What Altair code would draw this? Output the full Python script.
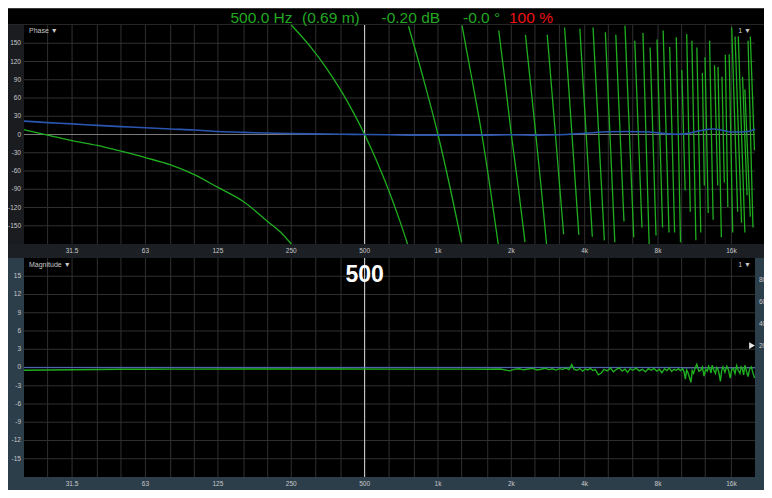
import altair as alt
import pandas as pd

# ---------------- data ----------------
grid_freqs = [25, 31.5, 40, 50, 63, 80, 100, 125, 160, 200, 250, 315, 400, 500, 630, 800,
              1000, 1250, 1600, 2000, 2500, 3150, 4000, 5000, 6300, 8000, 10000, 12500, 16000]
xlabel_freqs = [31.5, 63, 125, 250, 500, 1000, 2000, 4000, 8000, 16000]
xlabel_text = ["31.5", "63", "125", "250", "500", "1k", "2k", "4k", "8k", "16k"]
phase_ticks = [150, 120, 90, 60, 30, 0, -30, -60, -90, -120, -150]
mag_ticks = [15, 12, 9, 6, 3, 0, -3, -6, -9, -12, -15]
coh_ticks = [80, 60, 40, 20]
coh_marker = [20]
cursor_freq = [500]

# blue phase trace
blue_phase_f = [20, 25, 31.5, 40, 50, 63, 80, 100, 125, 160, 200, 250, 315, 400, 500, 630, 800,
                1000, 1250, 1600, 2000, 2500, 3150, 4000, 5000, 5900, 7400, 9400, 10300, 12300,
                13500, 16300, 18700, 20000]
blue_phase_deg = [22, 19.5, 17.5, 15, 13, 11, 9, 7.5, 5, 3.5, 2.5, 1.5, 1, 0.5, 0, -0.5, -1,
                  -1, -1, -1, -0.5, -1, -0.5, 2, 4.5, 5, 4, 0.5, 1, 7.5, 9, 4, 5, 9]

# green (wrapped) phase trace: curved segments
seg1_f = [20, 25, 31.5, 40, 50, 63, 80, 100, 125, 160, 200, 225, 250]
seg1_deg = [8, -1, -10, -18, -27.5, -38, -50, -66, -87, -111, -143, -160, -180]
seg2_f = [250, 300, 350, 400, 450, 500, 550, 600, 650, 700, 750]
seg2_deg = [180, 144, 108, 72, 36, 0, -36, -72, -108, -144, -180]
seg3_f = [757, 875, 1000, 1125, 1250]
seg3_deg = [178, 89, 0, -90, -177]
seg4_f = [1255, 1380, 1514, 1640, 1767]
seg4_deg = [179, 90, 0, -90, -180]
seg5_f = [1776, 1888, 2000, 2138, 2276]
seg5_deg = [171, 85, 0, -88, -177]
seg6_f = [2285, 2400, 2520, 2655, 2790]
seg6_deg = [164, 82, 0, -90, -180]

# green phase: sampled strokes at high frequency (top -> bottom)
stroke_top_f = [2808, 3308, 3821, 4328, 4863, 5367, 5852, 6420, 6938, 7424, 7921, 8395, 8932,
                9505, 10014, 10489, 11015, 11545, 12163, 12471, 13020, 13638, 14100, 14636,
                15104, 15667, 16052, 16565, 17080, 17777, 18174, 18730, 19133]
stroke_top_deg = [164, 176, 174, 176, 168, 164, 179, 154, 167, 143, 156, 171, 144,
                  160, 106, 165, 154, 143, 101, 127, 154, 114, 111, 95,
                  131, 132, 176, 161, 161, 95, 74, 154, 161]
stroke_bot_f = [3278, 3786, 4300, 4818, 5318, 5798, 6360, 6874, 7356, 7848, 8352, 8874, 9356,
                9893, 10335, 10850, 11440, 11983, 12390, 12855, 13465, 14062, 14553, 14965,
                15468, 16203, 16972, 17611, 18174, 18556, 19133, 19620, 19900]
stroke_bot_deg = [-164, -165, -168, -174, -177, -143, -169, -153, -180, -166, -153, -161, -161,
                  -177, -92, -127, -174, -161, -84, -129, -140, -84, -169, -79,
                  -119, -161, -127, -145, -161, -100, -135, -153, -26]

# green magnitude trace
mag_f = [20, 25, 31.5, 40, 50, 63, 80, 100, 160, 250, 400, 630, 1000, 1300, 1600, 1800, 1970,
         2050, 2150, 2250, 2350, 2450, 2550, 2650, 2750, 2850, 2950, 3050, 3150, 3250, 3350,
         3450, 3540, 3620, 3720, 3820, 3920, 4020, 4120, 4220, 4320, 4420, 4550, 4680, 4800,
         4950, 5100, 5250, 5400, 5550, 5700, 5850, 6000, 6150, 6300, 6500, 6700, 6900, 7100,
         7300, 7500, 7700, 7900, 8100, 8300, 8500, 8700, 8900, 9100, 9300, 9500, 9700, 9900,
         10100, 10230, 10360, 10480, 10600, 10760, 10920, 11050, 11190, 11360, 11540, 11760,
         11990, 12170, 12356, 12550, 12740, 12900, 13050, 13200, 13340, 13550, 13760, 13930,
         14100, 14260, 14420, 14600, 14780, 15050, 15330, 15570, 15816, 16060, 16306, 16560,
         16820, 17080, 17350, 17550, 17750, 17960, 18180, 18450, 18730, 19020, 19320, 19620,
         19930]
mag_db = [-0.45, -0.42, -0.38, -0.33, -0.3, -0.28, -0.27, -0.26, -0.25, -0.25, -0.25, -0.26,
          -0.27, -0.27, -0.3, -0.25, -0.55, -0.3, -0.2, -0.38, -0.25, -0.15, -0.4, -0.28, -0.12,
          -0.35, -0.22, -0.42, -0.2, -0.3, -0.1, -0.35, 0.48, -0.3, -0.45, -0.18, -0.6, -0.25,
          -0.4, -0.15, -0.5, -0.3, -1.2, -0.9, -0.3, -0.55, -0.1, -0.7, -0.3, -0.05, -0.6, -0.25,
          -0.8, -0.2, -0.45, -0.1, -0.55, -0.3, -0.7, -0.2, -0.45, -0.15, -0.6, -0.3, -0.85,
          -0.2, -0.5, -0.1, -0.65, -0.3, -0.45, -0.2, -0.5,
          -0.2, -0.7, -1.9, -0.4, -0.8, -1.6, -2.45, -0.5, -0.96, -0.1,
          0.53, -0.6, -0.43, 0.1, -1.4, -0.3, -0.6, 0.2, -0.2, -0.9, 0.37, -0.4, -0.96, 0.0,
          -0.3, -1.1, -2.3, -0.5, 0.1, -0.8, 0.2, -0.4, -1.75, -0.3, -0.16, -1.0,
          0.3, -0.5, -0.96, 0.1, -0.2, -1.2, 0.37, -0.6, -1.5, -0.2, 0.1, -0.9,
          -1.75]

# blue magnitude trace
mag2_f = [20, 9800, 10200, 20000]
mag2_db = [0.0, 0.0, -0.1, -0.1]

# ---------------- build tables ----------------
rows = []
sid = 0
for fs, ds in [(seg1_f, seg1_deg), (seg2_f, seg2_deg), (seg3_f, seg3_deg),
               (seg4_f, seg4_deg), (seg5_f, seg5_deg), (seg6_f, seg6_deg)]:
    for f, d in zip(fs, ds):
        rows.append({"seg": sid, "f": f, "deg": d})
    sid += 1
for ft, dt, fb, db in zip(stroke_top_f, stroke_top_deg, stroke_bot_f, stroke_bot_deg):
    rows.append({"seg": sid, "f": ft, "deg": dt})
    rows.append({"seg": sid, "f": fb, "deg": db})
    sid += 1
green_phase = pd.DataFrame(rows)
blue_phase = pd.DataFrame({"f": blue_phase_f, "deg": blue_phase_deg})
mag_green = pd.DataFrame({"f": mag_f, "db": mag_db})
mag_blue = pd.DataFrame({"f": mag2_f, "db": mag2_db})
grid_df = pd.DataFrame({"f": grid_freqs})
xlab_df = pd.DataFrame({"f": xlabel_freqs, "t": xlabel_text})
ph_df = pd.DataFrame({"v": phase_ticks, "t": [str(v) for v in phase_ticks]})
mg_df = pd.DataFrame({"v": mag_ticks, "t": [str(v) for v in mag_ticks]})
coh_df = pd.DataFrame({"c": coh_ticks, "t": [str(v) for v in coh_ticks]})
cohm_df = pd.DataFrame({"c": coh_marker})
cur_df = pd.DataFrame({"f": cursor_freq, "t": [str(v) for v in cursor_freq]})
one = pd.DataFrame({"k": [0]})

# ---------------- layout ----------------
W, H = 731, 452
PH_TOP, PH_BOT = 0, 219
MG_TOP, MG_BOT = 233, 452
PH_DOMAIN = [-563.01, 180]
MG_DOMAIN = [-18, 56.30]
FONT = "Liberation Sans, Arial, sans-serif"
GREEN = "#1fae1f"
BLUE = "#2a56b0"
GRID = "#303030"
SLATE = "#2d3e4b"
DARK = "#1c1f24"
LBL = "#c8c8c8"


def X(field="f"):
    return alt.X(f"{field}:Q", scale=alt.Scale(type="log", domain=[20, 20000], nice=False), axis=None)


def YP(field):
    return alt.Y(f"{field}:Q", scale=alt.Scale(domain=PH_DOMAIN, nice=False, zero=False), axis=None)


def YM(field):
    return alt.Y(f"{field}:Q", scale=alt.Scale(domain=MG_DOMAIN, nice=False, zero=False), axis=None)


def box(x1, x2, y1, y2, color):
    return alt.Chart(one).mark_rect(color=color).encode(
        x=alt.value(x1), x2=alt.value(x2), y=alt.value(y1), y2=alt.value(y2))


def label(text, x, y, size=7, color=LBL, align="left", baseline="middle", font=FONT, weight="normal"):
    return alt.Chart(one).mark_text(text=text, align=align, baseline=baseline, fontSize=size,
                                    color=color, font=font, fontWeight=weight).encode(
        x=alt.value(x), y=alt.value(y))


layers = [
    # strips
    box(-16, W + 9, -17, -16, "#3a3a3a"),
    box(-16, W + 9, -1, 0, "#262626"),
    box(-16, 0, PH_TOP, PH_BOT, "#1a1c20"),
    box(-16, W + 9, PH_BOT, MG_TOP, DARK),
    box(-16, 0, MG_TOP, MG_BOT, SLATE),
    box(W, W + 9, MG_TOP, MG_BOT, SLATE),
    box(-16, W + 9, MG_BOT, MG_BOT + 13, SLATE),
    # vertical grid
    alt.Chart(grid_df).mark_rule(color=GRID, strokeWidth=1).encode(
        x=X(), y=alt.value(PH_TOP), y2=alt.value(PH_BOT)),
    alt.Chart(grid_df).mark_rule(color=GRID, strokeWidth=1).encode(
        x=X(), y=alt.value(MG_TOP), y2=alt.value(MG_BOT)),
    # horizontal grid
    alt.Chart(ph_df[ph_df.v != 0]).mark_rule(color=GRID, strokeWidth=1).encode(
        y=YP("v"), x=alt.value(0), x2=alt.value(W)),
    alt.Chart(mg_df[mg_df.v != 0]).mark_rule(color=GRID, strokeWidth=1).encode(
        y=YM("v"), x=alt.value(0), x2=alt.value(W)),
    # zero lines
    alt.Chart(ph_df[ph_df.v == 0]).mark_rule(color="#7a7a7a", strokeWidth=1).encode(
        y=YP("v"), x=alt.value(0), x2=alt.value(W)),
    alt.Chart(mg_df[mg_df.v == 0]).mark_rule(color="#6c6a86", strokeWidth=1.2).encode(
        y=YM("v"), x=alt.value(0), x2=alt.value(W)),
    # cursor
    alt.Chart(cur_df).mark_rule(color="#d8d8d8", strokeWidth=1).encode(
        x=X(), y=alt.value(PH_TOP), y2=alt.value(PH_BOT)),
    alt.Chart(cur_df).mark_rule(color="#d8d8d8", strokeWidth=1).encode(
        x=X(), y=alt.value(MG_TOP), y2=alt.value(MG_BOT)),
    # traces
    alt.Chart(green_phase).mark_line(color=GREEN, strokeWidth=1.3, interpolate="monotone").encode(
        x=X(), y=YP("deg"), detail="seg:N"),
    alt.Chart(blue_phase).mark_line(color=BLUE, strokeWidth=1.6, interpolate="monotone").encode(
        x=X(), y=YP("deg")),
    alt.Chart(mag_blue).mark_line(color="#3a5fc0", strokeWidth=1.3, opacity=0.6).encode(
        x=X(), y=YM("db")),
    alt.Chart(mag_green).mark_line(color=GREEN, strokeWidth=1.4).encode(
        x=X(), y=YM("db")),
    # tick labels
    alt.Chart(ph_df).mark_text(align="right", baseline="middle", fontSize=6.5, font=FONT, color=LBL).encode(
        x=alt.value(-3), y=YP("v"), text="t:N"),
    alt.Chart(mg_df).mark_text(align="right", baseline="middle", fontSize=6.5, font=FONT, color=LBL).encode(
        x=alt.value(-3), y=YM("v"), text="t:N"),
    alt.Chart(xlab_df).mark_text(align="center", baseline="middle", fontSize=6.5, font=FONT, color=LBL).encode(
        x=X(), y=alt.value(226), text="t:N"),
    alt.Chart(xlab_df).mark_text(align="center", baseline="middle", fontSize=6.5, font=FONT, color=LBL).encode(
        x=X(), y=alt.value(459), text="t:N"),
    alt.Chart(coh_df).transform_calculate(db="datum.c * 0.18").mark_text(
        align="left", baseline="middle", fontSize=6.5, font=FONT, color=LBL).encode(
        x=alt.value(735), y=YM("db"), text="t:N"),
    alt.Chart(cohm_df).transform_calculate(db="datum.c * 0.18").mark_point(
        shape="triangle-right", filled=True, color="#e6e6e6", size=45, opacity=1).encode(
        x=alt.value(728), y=YM("db")),
    # panel titles
    label("Phase \u25BC", 5, 6.2),
    label("1 \u25BC", 727, 6.2, align="right"),
    label("Magnitude \u25BC", 5, 239.5),
    label("1 \u25BC", 727, 239.5, align="right"),
    # big cursor label
    alt.Chart(cur_df).mark_text(align="center", baseline="alphabetic", fontSize=23, fontWeight="bold",
                                font="Liberation Sans Narrow, Liberation Sans, Arial, sans-serif",
                                color="#ffffff").encode(
        x=X(), y=alt.value(256.5), text="t:N"),
    # header readout
    label("500.0 Hz", 206.5, -1.8, size=15.5, color="#22a822", baseline="alphabetic"),
    label("(0.69 m)", 278, -1.8, size=15.5, color="#22a822", baseline="alphabetic"),
    label("-0.20 dB", 357.5, -1.8, size=15.5, color="#22a822", baseline="alphabetic"),
    label("-0.0 \u00B0", 439, -1.8, size=15.5, color="#22a822", baseline="alphabetic"),
    label("100 %", 485, -1.8, size=15.5, color="#ee1414", baseline="alphabetic"),
]

chart = alt.layer(*layers).resolve_scale(y="independent").properties(
    width=W, height=H,
    padding={"left": 16, "right": 9, "top": 17, "bottom": 13},
    autosize=alt.AutoSizeParams(type="none"),
    background="#000000",
).configure_view(strokeWidth=0, fill="#000000")

chart.save("out.html", embed_options={"renderer": "svg", "actions": False})
